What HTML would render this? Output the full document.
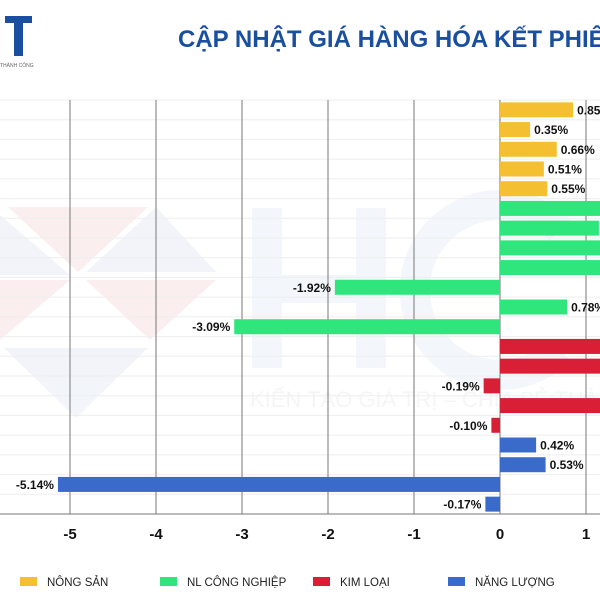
<!DOCTYPE html>
<html><head><meta charset="utf-8"><style>
body{margin:0;width:600px;height:600px;overflow:hidden;background:#fff;font-family:"Liberation Sans",sans-serif}
</style></head><body>
<svg id="chart" width="600" height="600" viewBox="0 0 600 600" xmlns="http://www.w3.org/2000/svg">
<g opacity="0.4">
<polygon points="8,207 148,207 78,272" fill="#f3d6d6"/>
<polygon points="0,215 70,275 0,275" fill="#dfe6f3"/>
<polygon points="86,272 156,207 216,272" fill="#dfe6f3"/>
<polygon points="0,280 70,280 0,340" fill="#f3d6d6"/>
<polygon points="86,280 216,280 150,340" fill="#f3d6d6"/>
<polygon points="4,348 148,348 76,418" fill="#dfe6f3"/>
<rect x="252" y="208" width="30" height="160" fill="#e3e9f4"/>
<rect x="356" y="208" width="30" height="160" fill="#e3e9f4"/>
<rect x="252" y="275" width="134" height="28" fill="#e3e9f4"/>
<path d="M 560 230 A 85 85 0 1 0 560 350" fill="none" stroke="#e3e9f4" stroke-width="30"/>
<text x="250" y="407" font-size="22" fill="#e8e8e8">KIẾN TẠO GIÁ TRỊ – CHIA SẺ THÀNH CÔNG</text>
</g>
<g>
<rect x="5" y="16" width="27" height="7" fill="#1a4fa0"/>
<rect x="14" y="16" width="9" height="40" fill="#1a4fa0"/>
<text x="0" y="67" font-size="5" fill="#666">THÀNH CÔNG</text>
</g>
<text x="178" y="47" font-size="24" font-weight="bold" fill="#1a4fa0">CẬP NHẬT GIÁ HÀNG HÓA KẾT PHIÊN</text>
<g id="grid"></g><g id="bars"></g><g id="axis"></g>
<g id="legend"></g>
</svg>
<script>
const labels=["Nông sản 1","Nông sản 2","Nông sản 3","Nông sản 4","Nông sản 5","NL 1","NL 2","NL 3","NL 4","NL 5","NL 6","NL 7","KL 1","KL 2","KL 3","KL 4","KL 5","NLg 1","NLg 2","NLg 3","NLg 4"];
const values=[0.85,0.35,0.66,0.51,0.55,1.8,1.15,1.6,1.4,-1.92,0.78,-3.09,1.7,1.5,-0.19,1.3,-0.10,0.42,0.53,-5.14,-0.17];
const groups=[0,0,0,0,0,1,1,1,1,1,1,1,2,2,2,2,2,3,3,3,3];
const groupNames=["NÔNG SẢN","NL CÔNG NGHIỆP","KIM LOẠI","NĂNG LƯỢNG"];
const ticks=[-5,-4,-3,-2,-1,0,1];
const colors=["#f4bf30","#2ee67c","#d81f35","#3a6bcb"];
const NS="http://www.w3.org/2000/svg";
const x0=500,ppu=86,plotTop=100,plotBottom=514,rowH=(plotBottom-plotTop)/labels.length;
const xs=v=>x0+v*ppu, ys=i=>plotTop+i*rowH+rowH/2;
function mk(t,a,p){const e=document.createElementNS(NS,t);for(const k in a)e.setAttribute(k,a[k]);p.appendChild(e);return e;}
const grid=document.getElementById('grid'),bars=document.getElementById('bars'),axis=document.getElementById('axis'),leg=document.getElementById('legend');
for(let i=0;i<=labels.length;i++){const l=mk('line',{x1:0,x2:600,y1:plotTop+i*rowH,y2:plotTop+i*rowH,stroke:'#eeeeee','stroke-width':1},grid);

}
ticks.forEach(t=>{const l=mk('line',{x1:xs(t),x2:xs(t),y1:plotTop,y2:plotBottom,stroke:'#777','stroke-width':1},grid);


const tx=mk('text',{x:xs(t),y:539,'text-anchor':'middle','font-size':15,'font-weight':'bold',fill:'#111'},axis);tx.textContent=t;

});
const al=mk('line',{x1:0,x2:600,y1:plotBottom,y2:plotBottom,stroke:'#777','stroke-width':1},axis);


values.forEach((v,i)=>{const y=ys(i),h=15,x=Math.min(xs(0),xs(v)),w=Math.abs(xs(v)-xs(0));
const r=mk('rect',{x:x,y:y-h/2,width:w,height:h,fill:colors[groups[i]]},bars);


const t=mk('text',{x:v>=0?xs(v)+4:xs(v)-4,y:y+4.5,'text-anchor':v>=0?'start':'end','font-size':12,'font-weight':'bold',fill:'#111'},bars);
t.textContent=v.toFixed(2)+'%';

});
const lx=[20,160,313,448];
groupNames.forEach((n,g)=>{const r=mk('rect',{x:lx[g],y:577,width:17,height:9,fill:colors[g]},leg);


const t=mk('text',{x:lx[g]+27,y:586,'font-size':11.5,fill:'#222'},leg);t.textContent=n;

});
</script>
</body></html>
